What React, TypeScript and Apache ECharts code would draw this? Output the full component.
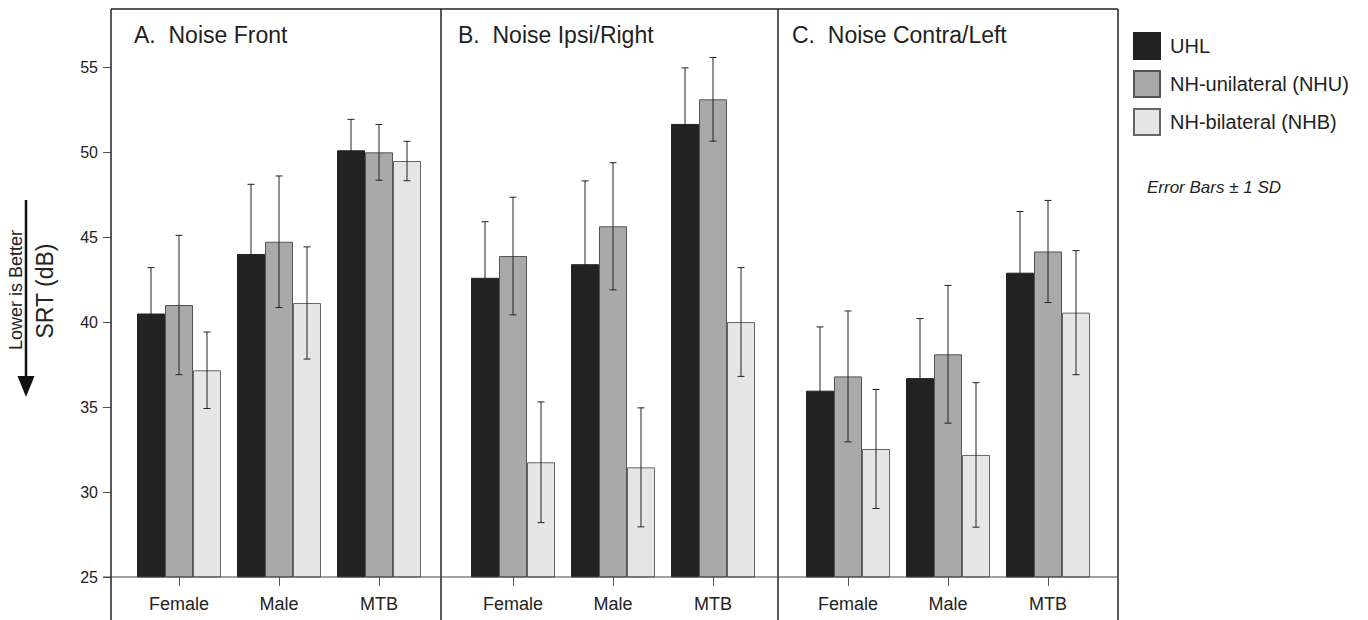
import React, { useEffect, useRef } from "react";
import * as echarts from "echarts";

const categories = ["Female", "Male", "MTB"];
const seriesNames = ["UHL", "NH-unilateral (NHU)", "NH-bilateral (NHB)"];
const panelTitles = ["A.  Noise Front", "B.  Noise Ipsi/Right", "C.  Noise Contra/Left"];
const yTicks = [25, 30, 35, 40, 45, 50, 55];

// Panel A: Noise Front
const uhlA = [40.5, 44.0, 50.1];
const uhlSdA = [2.7, 4.1, 1.82];
const nhuA = [41.0, 44.72, 49.98];
const nhuSdA = [4.1, 3.87, 1.64];
const nhbA = [37.16, 41.12, 49.47];
const nhbSdA = [2.25, 3.3, 1.16];

// Panel B: Noise Ipsi/Right
const uhlB = [42.6, 43.4, 51.65];
const uhlSdB = [3.3, 4.9, 3.3];
const nhuB = [43.88, 45.63, 53.1];
const nhuSdB = [3.46, 3.74, 2.46];
const nhbB = [31.75, 31.45, 40.0];
const nhbSdB = [3.55, 3.5, 3.2];

// Panel C: Noise Contra/Left
const uhlC = [35.96, 36.7, 42.9];
const uhlSdC = [3.75, 3.5, 3.6];
const nhuC = [36.8, 38.1, 44.15];
const nhuSdC = [3.85, 4.05, 3.0];
const nhbC = [32.53, 32.18, 40.55];
const nhbSdC = [3.5, 4.25, 3.65];

const means = [
  [uhlA, nhuA, nhbA],
  [uhlB, nhuB, nhbB],
  [uhlC, nhuC, nhbC],
];
const sds = [
  [uhlSdA, nhuSdA, nhbSdA],
  [uhlSdB, nhuSdB, nhbSdB],
  [uhlSdC, nhuSdC, nhbSdC],
];

const colors = ["#222222", "#a9a9a9", "#e6e6e6"];
const borderColors = ["#222222", "#555555", "#666666"];
const BAR_W = 28;
const FONT = "Liberation Sans, Arial, Helvetica, sans-serif";

const gridLefts = [129, 463, 798];
const frameXs = [111, 441, 778, 1118];

export default function App() {
  const ref = useRef<HTMLDivElement>(null);

  useEffect(() => {
    if (!ref.current) return;
    const chart = echarts.init(ref.current, null, { renderer: "svg" });

    const grids = gridLefts.map((l) => ({ left: l, width: 300, top: 67, height: 510 }));

    const xAxes = gridLefts.map((_, i) => ({
      type: "category",
      gridIndex: i,
      data: categories,
      axisLine: { show: false },
      axisTick: { show: true, alignWithLabel: true, length: 9, lineStyle: { color: "#555", width: 1 } },
      axisLabel: { fontSize: 18, color: "#222", margin: 18, fontFamily: FONT },
      splitLine: { show: false },
    }));

    const yAxes = gridLefts.map((_, i) => ({
      type: "value",
      gridIndex: i,
      min: 25,
      max: 55,
      interval: 5,
      show: i === 0,
      offset: 18,
      axisLine: { show: false },
      axisTick: { show: true, length: 8, lineStyle: { color: "#555", width: 1 } },
      axisLabel: {
        fontSize: 16,
        color: "#222",
        margin: 13,
        fontFamily: FONT,
        formatter: (v: number) => (yTicks.includes(v) ? String(v) : ""),
      },
      splitLine: { show: false },
    }));

    const series: any[] = [];
    for (let p = 0; p < 3; p++) {
      for (let s = 0; s < 3; s++) {
        series.push({
          type: "bar",
          name: seriesNames[s],
          xAxisIndex: p,
          yAxisIndex: p,
          data: means[p][s],
          barWidth: BAR_W,
          barGap: "0%",
          itemStyle: { color: colors[s], borderColor: borderColors[s], borderWidth: 1 },
          z: 2,
        });
      }
      const errData: number[][] = [];
      for (let s = 0; s < 3; s++) {
        for (let c = 0; c < categories.length; c++) {
          errData.push([c, means[p][s][c], sds[p][s][c], s]);
        }
      }
      series.push({
        type: "custom",
        name: "err" + p,
        xAxisIndex: p,
        yAxisIndex: p,
        data: errData,
        encode: { x: 0, y: 1 },
        z: 5,
        silent: true,
        renderItem: (params: any, api: any) => {
          const c = api.value(0);
          const m = api.value(1);
          const sd = api.value(2);
          const g = api.value(3);
          const top = api.coord([c, m + sd]);
          const bot = api.coord([c, m - sd]);
          const x = top[0] + (g - 1) * BAR_W;
          const cap = 3.5;
          const st = { stroke: "#222", lineWidth: 1 };
          return {
            type: "group",
            children: [
              { type: "line", shape: { x1: x, y1: top[1], x2: x, y2: bot[1] }, style: st },
              { type: "line", shape: { x1: x - cap, y1: top[1], x2: x + cap, y2: top[1] }, style: st },
              { type: "line", shape: { x1: x - cap, y1: bot[1], x2: x + cap, y2: bot[1] }, style: st },
            ],
          };
        },
      });
    }

    const frameStyle = { stroke: "#222", lineWidth: 1.5 };
    const graphics: any[] = [
      { type: "line", shape: { x1: 111, y1: 9, x2: 1118, y2: 9 }, style: frameStyle, z: 10 },
      ...frameXs.map((x) => ({
        type: "line",
        shape: { x1: x, y1: 9, x2: x, y2: 620 },
        style: frameStyle,
        z: 10,
      })),
      { type: "line", shape: { x1: 103, y1: 577, x2: 1118, y2: 577 }, style: { stroke: "#444", lineWidth: 1 }, z: 10 },
      ...panelTitles.map((t, i) => ({
        type: "text",
        x: [134, 458, 792][i],
        y: 35,
        style: { text: t, fontSize: 23, fontFamily: FONT, fill: "#222", verticalAlign: "middle", align: "left" },
        z: 10,
      })),
      {
        type: "text",
        x: 45,
        y: 291,
        rotation: Math.PI / 2,
        style: { text: "SRT (dB)", fontSize: 23, fontFamily: FONT, fill: "#222", align: "center", verticalAlign: "middle" },
      },
      {
        type: "text",
        x: 15.5,
        y: 290,
        rotation: Math.PI / 2,
        style: { text: "Lower is Better", fontSize: 18, fontFamily: FONT, fill: "#222", align: "center", verticalAlign: "middle" },
      },
      { type: "line", shape: { x1: 26, y1: 200, x2: 26, y2: 382 }, style: { stroke: "#111", lineWidth: 2.5 } },
      {
        type: "polygon",
        shape: { points: [[17.5, 376], [34.5, 376], [26, 397]] },
        style: { fill: "#111" },
      },
      {
        type: "text",
        x: 1147,
        y: 187,
        style: {
          text: "Error Bars \u00B1 1 SD",
          fontSize: 17,
          fontStyle: "italic",
          fontFamily: FONT,
          fill: "#222",
          verticalAlign: "middle",
          align: "left",
        },
      },
    ];

    chart.setOption({
      animation: false,
      backgroundColor: "#fff",
      textStyle: { fontFamily: FONT },
      grid: grids,
      xAxis: xAxes,
      yAxis: yAxes,
      legend: {
        data: seriesNames,
        orient: "vertical",
        left: 1128,
        top: 27,
        itemWidth: 26,
        itemHeight: 26,
        itemGap: 10,
        icon: "rect",
        selectedMode: false,
        textStyle: { fontSize: 20, color: "#222", fontFamily: FONT, padding: [0, 0, 0, 5] },
      },
      series,
      graphic: graphics,
    });

    return () => chart.dispose();
  }, []);

  return (
    <div
      ref={ref}
      style={{ position: "fixed", left: 0, top: 0, width: 1368, height: 620, background: "#fff" }}
    />
  );
}
